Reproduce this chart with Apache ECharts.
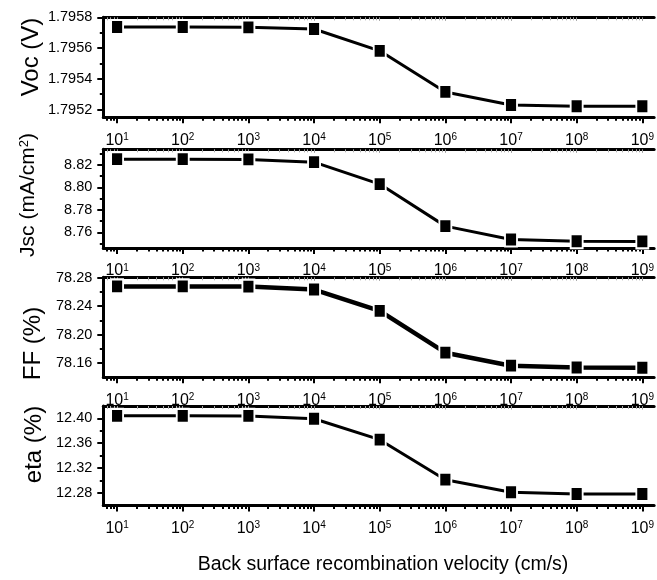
<!DOCTYPE html>
<html><head><meta charset="utf-8">
<script src="https://cdn.jsdelivr.net/npm/echarts@6/dist/echarts.min.js"></script>
<style>html,body{margin:0;padding:0;background:#fff}#c{width:657px;height:580px}</style>
</head><body><div id="c"></div>
<script>
// ---- data ----
const velocities = [1e1, 1e2, 1e3, 1e4, 1e5, 1e6, 1e7, 1e8, 1e9];
const xTickExponents = ['1', '2', '3', '4', '5', '6', '7', '8', '9'];
const minorMultipliers = [2, 3, 4, 5, 6, 7, 8, 9];
const vocValues = [1.795737, 1.795737, 1.795735, 1.795724, 1.795582, 1.795315, 1.795230, 1.795222, 1.795222];
const jscValues = [8.8252, 8.8252, 8.8250, 8.8225, 8.8030, 8.7655, 8.7536, 8.7520, 8.7519];
const ffValues = [78.2677, 78.2677, 78.2675, 78.2633, 78.2334, 78.1746, 78.1563, 78.1538, 78.1534];
const etaValues = [12.4040, 12.4040, 12.4038, 12.3992, 12.3655, 12.3010, 12.2808, 12.2780, 12.2780];
const vocTicks = [1.7952, 1.7954, 1.7956, 1.7958];
const vocMinor = [1.7953, 1.7955, 1.7957];
const jscTicks = [8.76, 8.78, 8.80, 8.82];
const jscMinor = [8.75, 8.77, 8.79, 8.81, 8.83];
const ffTicks = [78.16, 78.20, 78.24, 78.28];
const ffMinor = [78.18, 78.22, 78.26];
const etaTicks = [12.28, 12.32, 12.36, 12.40];
const etaMinor = [12.30, 12.34, 12.38];
const yTitles = ['Voc (V)', 'Jsc (mA/cm{s|2})', 'FF (%)', 'eta (%)'];
const xTitle = 'Back surface recombination velocity (cm/s)';

// ---- layout ----
const FONT = 'Liberation Sans, Arial, sans-serif';
const NARROW = 'Liberation Sans Narrow, Arial Narrow, Liberation Sans, sans-serif';
const xMin = Math.pow(10, 0.79), xMax = Math.pow(10, 9.18);
const panels = [
  {values: vocValues, ticks: vocTicks, minor: vocMinor, min: 1.79515, max: 1.7958, dec: 4, top: 17.3, height: 100, lw: 3,
   title: {x: 31, y: 57, size: 24}},
  {values: jscValues, ticks: jscTicks, minor: jscMinor, min: 8.746, max: 8.834, dec: 2, top: 149.3, height: 98.7, lw: 3,
   title: {x: 28.5, y: 195, size: 21}},
  {values: ffValues, ticks: ffTicks, minor: ffMinor, min: 78.14, max: 78.2805, dec: 2, top: 277.3, height: 100, lw: 4.5,
   title: {x: 33.5, y: 343.5, size: 24}},
  {values: etaValues, ticks: etaTicks, minor: etaMinor, min: 12.2594, max: 12.4198, dec: 2, top: 406, height: 99.5, lw: 3,
   title: {x: 34, y: 444.5, size: 24}}
];

const minorX = [];
for (let e = 0; e <= 9; e++) {
  minorMultipliers.forEach(m => {
    const v = m * Math.pow(10, e);
    if (v > xMin && v < xMax) minorX.push(v);
  });
}

const grids = [], xAxes = [], yAxes = [], series = [], graphics = [];
panels.forEach((p, i) => {
  grids.push({left: 103.3, right: 0, top: p.top, height: p.height, containLabel: false});
  const base = {type: 'log', gridIndex: i, min: xMin, max: xMax, splitLine: {show: false}, minorTick: {show: false}};
  xAxes.push(Object.assign({}, base, {
    position: 'bottom',
    axisLine: {show: true, onZero: false, lineStyle: {color: '#000', width: 3}},
    axisTick: {show: true, customValues: velocities, length: 6, lineStyle: {color: '#000', width: 2}},
    axisLabel: {
      show: true, customValues: velocities, margin: 15,
      formatter: v => '{b|10}{s|' + xTickExponents[Math.round(Math.log10(v)) - 1] + '}',
      rich: {
        b: {fontSize: 16, fontFamily: NARROW, color: '#000', verticalAlign: 'bottom'},
        s: {fontSize: 10, fontFamily: NARROW, color: '#000', verticalAlign: 'top'}
      }
    }
  }));
  xAxes.push(Object.assign({}, base, {
    position: 'bottom',
    axisLine: {show: false},
    axisTick: {show: true, customValues: minorX, length: 3.5, lineStyle: {color: '#000', width: 2}},
    axisLabel: {show: false}
  }));
  xAxes.push(Object.assign({}, base, {
    position: 'top',
    axisLine: {show: true, onZero: false, lineStyle: {color: '#000', width: 3}},
    axisTick: {show: true, inside: true, customValues: velocities, length: 3.5, lineStyle: {color: '#999', width: 1}},
    axisLabel: {show: false}
  }));
  xAxes.push(Object.assign({}, base, {
    position: 'top',
    axisLine: {show: false},
    axisTick: {show: true, inside: true, customValues: minorX, length: 3, lineStyle: {color: '#aaa', width: 1}},
    axisLabel: {show: false}
  }));
  yAxes.push({
    type: 'value', gridIndex: i, min: p.min, max: p.max, position: 'left',
    splitLine: {show: false},
    axisLine: {show: true, onZero: false, lineStyle: {color: '#000', width: 3}},
    axisTick: {show: true, customValues: p.ticks, length: 6, lineStyle: {color: '#000', width: 2}},
    axisLabel: {show: true, customValues: p.ticks, margin: 11, color: '#000', fontSize: 14.5, fontFamily: FONT,
      formatter: v => v.toFixed(p.dec)}
  });
  yAxes.push({
    type: 'value', gridIndex: i, min: p.min, max: p.max, position: 'left',
    splitLine: {show: false},
    axisLine: {show: false},
    axisTick: {show: true, customValues: p.minor, length: 3.5, lineStyle: {color: '#000', width: 2}},
    axisLabel: {show: false}
  });
  series.push({
    type: 'line', xAxisIndex: 4 * i, yAxisIndex: 2 * i,
    data: velocities.map((v, k) => [v, p.values[k]]),
    symbol: 'rect', symbolSize: [12, 14], clip: false,
    itemStyle: {color: '#000', borderColor: '#fff', borderWidth: 2},
    lineStyle: {color: '#000', width: p.lw},
    z: 5
  });
  graphics.push({
    type: 'text', x: p.title.x, y: p.title.y, rotation: Math.PI / 2,
    style: {text: yTitles[i], fontSize: p.title.size, fontFamily: FONT, fill: '#000',
      align: 'center', verticalAlign: 'middle',
      rich: {s: {fontSize: Math.round(p.title.size * 0.6), fontFamily: FONT, fill: '#000', verticalAlign: 'top'}}}
  });
});
graphics.push({
  type: 'text', x: 383, y: 565,
  style: {text: xTitle, fontSize: 19.5, fontFamily: FONT, fill: '#000', align: 'center', verticalAlign: 'middle'}
});

const chart = echarts.init(document.getElementById('c'), null, {renderer: 'canvas'});
chart.setOption({
  backgroundColor: '#fff',
  animation: false,
  grid: grids,
  xAxis: xAxes,
  yAxis: yAxes,
  series: series,
  graphic: graphics
});
</script>
</body></html>
